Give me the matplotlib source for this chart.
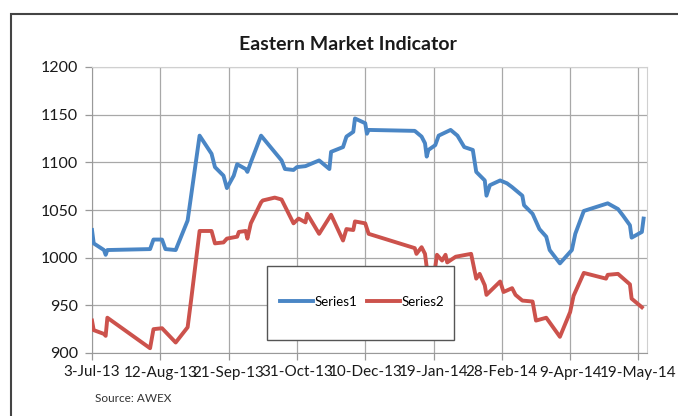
import matplotlib
matplotlib.use("Agg")
import matplotlib.pyplot as plt
from matplotlib.patches import Rectangle
import pandas as pd

plt.rcParams['font.family'] = ['Lato', 'DejaVu Sans']

# Series1 (blue)
s1_dates = ["2013-07-03", "2013-07-04", "2013-07-10", "2013-07-11", "2013-07-12",
            "2013-08-06", "2013-08-08", "2013-08-13", "2013-08-15", "2013-08-21", "2013-08-28",
            "2013-09-04", "2013-09-11", "2013-09-13", "2013-09-18", "2013-09-20", "2013-09-24", "2013-09-26",
            "2013-10-01", "2013-10-02", "2013-10-04", "2013-10-10", "2013-10-22", "2013-10-24", "2013-10-29", "2013-10-31",
            "2013-11-05", "2013-11-13", "2013-11-19", "2013-11-20", "2013-11-27", "2013-11-29",
            "2013-12-03", "2013-12-04", "2013-12-10", "2013-12-11", "2013-12-12",
            "2014-01-08", "2014-01-12", "2014-01-14", "2014-01-15", "2014-01-16", "2014-01-20", "2014-01-22", "2014-01-29",
            "2014-02-02", "2014-02-06", "2014-02-11", "2014-02-13", "2014-02-18", "2014-02-19", "2014-02-21", "2014-02-27",
            "2014-03-03", "2014-03-06", "2014-03-12", "2014-03-13", "2014-03-18", "2014-03-22", "2014-03-26", "2014-03-28",
            "2014-04-03", "2014-04-10", "2014-04-12", "2014-04-17",
            "2014-05-01", "2014-05-07", "2014-05-10", "2014-05-14", "2014-05-15", "2014-05-21", "2014-05-22"]
s1_values = [1029, 1015, 1008, 1003, 1008,
             1009, 1019, 1019, 1009, 1008, 1039,
             1128, 1109, 1095, 1086, 1073, 1086, 1098,
             1093, 1090, 1100, 1128, 1102, 1093, 1092, 1095,
             1096, 1102, 1093, 1111, 1116, 1127,
             1132, 1146, 1141, 1130, 1134,
             1133, 1127, 1120, 1106, 1113, 1118, 1128, 1134,
             1128, 1116, 1113, 1090, 1081, 1065, 1076, 1081,
             1078, 1074, 1065, 1055, 1046, 1030, 1022, 1008,
             994, 1008, 1025, 1049,
             1057, 1051, 1044, 1034, 1021, 1027, 1041]

# Series2 (red)
s2_dates = ["2013-07-03", "2013-07-04", "2013-07-10", "2013-07-11", "2013-07-12",
            "2013-08-06", "2013-08-08", "2013-08-13", "2013-08-21", "2013-08-28", "2013-08-30",
            "2013-09-04", "2013-09-11", "2013-09-13", "2013-09-18", "2013-09-20", "2013-09-26", "2013-09-27",
            "2013-10-01", "2013-10-02", "2013-10-04", "2013-10-10", "2013-10-11", "2013-10-18", "2013-10-22", "2013-10-29",
            "2013-11-01", "2013-11-05", "2013-11-06", "2013-11-13", "2013-11-20", "2013-11-27", "2013-11-29",
            "2013-12-03", "2013-12-04", "2013-12-10", "2013-12-12",
            "2014-01-08", "2014-01-09", "2014-01-12", "2014-01-14", "2014-01-15", "2014-01-16", "2014-01-20",
            "2014-01-21", "2014-01-24", "2014-01-26", "2014-01-27",
            "2014-02-01", "2014-02-10", "2014-02-13", "2014-02-15", "2014-02-18", "2014-02-19", "2014-02-27",
            "2014-03-01", "2014-03-06", "2014-03-08", "2014-03-12", "2014-03-18", "2014-03-20", "2014-03-26",
            "2014-04-03", "2014-04-09", "2014-04-11", "2014-04-17", "2014-04-30",
            "2014-05-01", "2014-05-07", "2014-05-14", "2014-05-15", "2014-05-21"]
s2_values = [934, 924, 920, 918, 937,
             905, 925, 926, 911, 927, 955,
             1028, 1028, 1015, 1016, 1020, 1022, 1027,
             1028, 1020, 1036, 1058, 1060, 1063, 1061, 1036,
             1041, 1037, 1046, 1025, 1045, 1018, 1030,
             1029, 1038, 1036, 1025,
             1010, 1004, 1011, 1004, 990, 984, 990,
             1003, 997, 1003, 995,
             1001, 1004, 978, 983, 971, 961, 975,
             964, 968, 961, 955, 954, 934, 937,
             917, 943, 960, 984, 978,
             982, 983, 972, 957, 948]

tick_dates = ["2013-07-03", "2013-08-12", "2013-09-21", "2013-10-31", "2013-12-10",
              "2014-01-19", "2014-02-28", "2014-04-09", "2014-05-19"]
tick_labels = ["3-Jul-13", "12-Aug-13", "21-Sep-13", "31-Oct-13", "10-Dec-13",
               "19-Jan-14", "28-Feb-14", "9-Apr-14", "19-May-14"]

fig = plt.figure(figsize=(6.78, 4.16), dpi=100)
ax = fig.add_axes([92 / 678, 1 - 353 / 416, (647 - 92) / 678, (353 - 67) / 416])

ax.plot(pd.to_datetime(s1_dates), s1_values, color='#4a86c5', lw=2.8,
        solid_joinstyle='round', label='Series1', zorder=3)
ax.plot(pd.to_datetime(s2_dates), s2_values, color='#cc524c', lw=2.8,
        solid_joinstyle='round', label='Series2', zorder=3)

ax.set_xlim(pd.Timestamp("2013-07-03"), pd.Timestamp("2014-05-24"))
ax.set_ylim(900, 1200)
ax.set_yticks(range(900, 1201, 50))
ax.set_xticks(pd.to_datetime(tick_dates))
ax.set_xticklabels(tick_labels)

ax.grid(True, color='#a8a8a8', lw=0.9)
ax.set_axisbelow(True)
for side in ['left', 'bottom']:
    ax.spines[side].set_color('#999999')
for side in ['top', 'right']:
    ax.spines[side].set_color('#d0d0d0')
ax.tick_params(axis='both', colors='#999999', length=5, width=0.9,
               labelcolor='#1a1a1a')
ax.tick_params(axis='y', labelsize=11.5, pad=5)
ax.tick_params(axis='x', labelsize=11, pad=4)

fig.text(0.513, 1 - 45 / 416, 'Eastern Market Indicator', ha='center', va='center',
         fontsize=14, fontweight='bold', color='#1a1a1a')
fig.text(95 / 678, 1 - 398 / 416, 'Source: AWEX', ha='left', va='center',
         fontsize=8.5, color='#333333')

# legend box
fig.patches.append(Rectangle((267 / 678, 1 - 340 / 416), 187 / 678, 74 / 416,
                             transform=fig.transFigure, facecolor='white',
                             edgecolor='#555555', lw=1.0, zorder=5))
leg = fig.legend(loc='center', bbox_to_anchor=(362 / 678, 1 - 302 / 416),
                 ncol=2, frameon=False, fontsize=9.5, handlelength=2.5,
                 handletextpad=0.1, columnspacing=0.8)
leg.set_zorder(6)

# outer chart frame
fig.patches.append(Rectangle((11 / 678, -0.1), 1.2, 1.1 - 14 / 416,
                             transform=fig.transFigure, facecolor='none',
                             edgecolor='#444444', lw=1.5, zorder=10))

fig.savefig('out.png', dpi=100)
